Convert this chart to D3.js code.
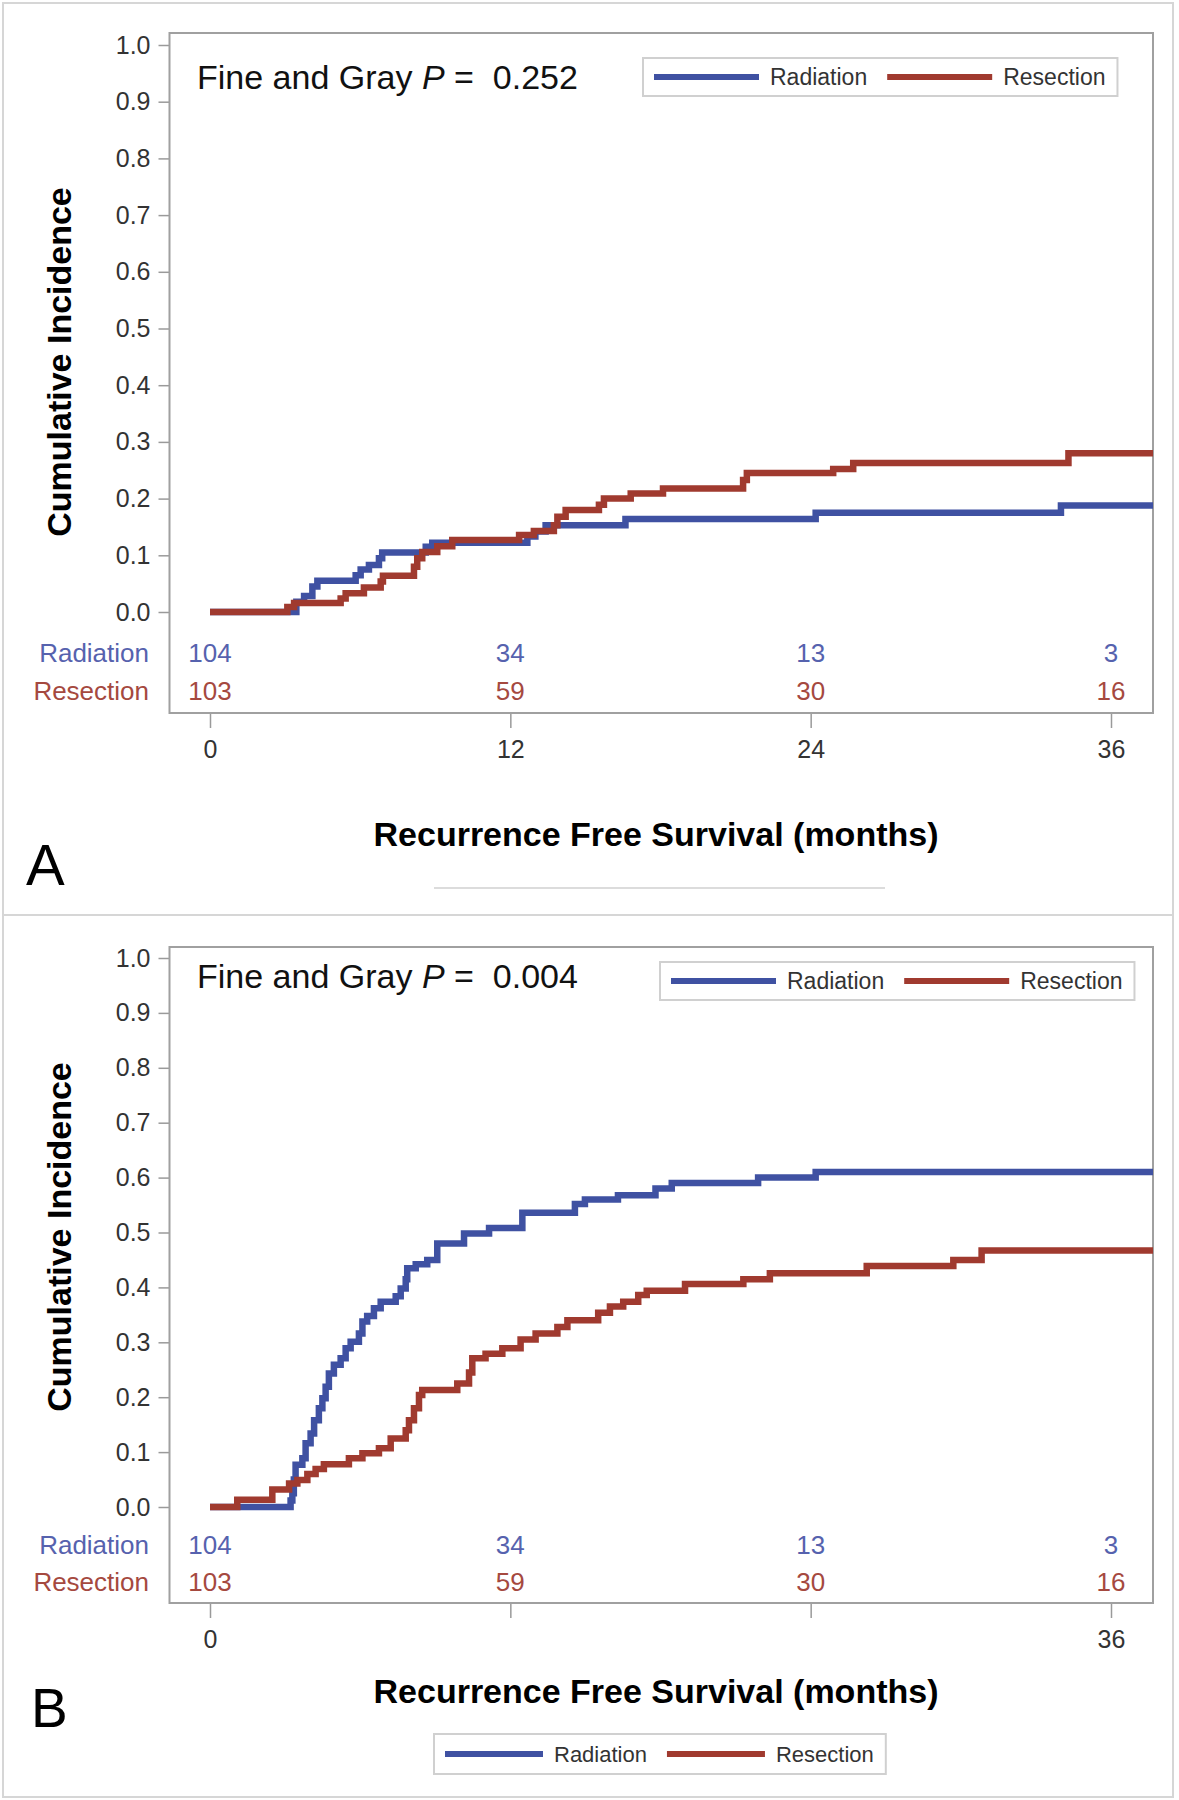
<!DOCTYPE html>
<html lang="en">
<head>
<meta charset="utf-8">
<title>Cumulative Incidence: Radiation vs Resection</title>
<style>
    body {
        margin: 0;
        background: #fff;
    }
    svg {
        display: block;
        font-family: "Liberation Sans", Arial, sans-serif;
    }
    .tick line {
        stroke: #9a9a9a;
        stroke-width: 1.5px;
    }
    .tick text {
        fill: #333;
        font-size: 25px;
    }
</style>
</head>
<body>
<svg id="chart" width="1179" height="1800"></svg>

<script src="https://d3js.org/d3.v7.min.js"></script>
<script>
    // ---- data (months, cumulative incidence) ----
    const groups = ["Radiation", "Resection"];
    const xTicks = [0, 12, 24, 36];
    const yTicks = [0, 0.1, 0.2, 0.3, 0.4, 0.5, 0.6, 0.7, 0.8, 0.9, 1.0];
    const riskTimes = [0, 12, 24, 36];
    const atRiskRadiation = [104, 34, 13, 3];
    const atRiskResection = [103, 59, 30, 16];

    const radiationA = [[0, 0], [3.45, 0.018], [3.76, 0.028], [4.09, 0.045], [4.29, 0.055], [5.82, 0.065],
        [6.02, 0.075], [6.35, 0.083], [6.75, 0.095], [6.88, 0.105], [8.62, 0.115], [8.88, 0.122],
        [12.68, 0.133], [13.0, 0.142], [13.41, 0.153], [16.6, 0.164], [24.2, 0.175], [34.0, 0.188]];
    const resectionA = [[0, 0], [3.09, 0.009], [3.36, 0.016], [5.22, 0.024], [5.42, 0.033], [6.15, 0.043],
        [6.82, 0.054], [6.91, 0.064], [8.15, 0.08], [8.28, 0.095], [8.48, 0.106], [9.08, 0.116],
        [9.68, 0.127], [12.35, 0.136], [12.94, 0.143], [13.74, 0.153], [13.88, 0.168], [14.21, 0.18],
        [15.54, 0.189], [15.74, 0.2], [16.81, 0.209], [18.1, 0.218], [21.3, 0.233], [21.45, 0.245],
        [24.9, 0.252], [25.7, 0.263], [34.3, 0.28]];

    const radiationB = [[0, 0], [3.22, 0.012], [3.29, 0.025], [3.35, 0.05], [3.42, 0.077], [3.69, 0.089],
        [3.82, 0.116], [4.02, 0.134], [4.16, 0.158], [4.35, 0.18], [4.49, 0.198], [4.62, 0.219],
        [4.75, 0.243], [4.95, 0.259], [5.22, 0.271], [5.42, 0.289], [5.62, 0.301], [5.95, 0.316],
        [6.09, 0.338], [6.28, 0.348], [6.55, 0.362], [6.82, 0.374], [7.42, 0.384], [7.62, 0.398],
        [7.82, 0.415], [7.88, 0.435], [8.22, 0.442], [8.68, 0.45], [9.08, 0.48], [10.15, 0.498],
        [11.15, 0.508], [12.48, 0.536], [14.58, 0.552], [14.98, 0.56], [16.3, 0.568], [17.8, 0.58],
        [18.45, 0.59], [21.9, 0.6], [24.2, 0.61]];
    const resectionB = [[0, 0], [1.09, 0.013], [2.49, 0.032], [3.16, 0.043], [3.49, 0.049], [3.89, 0.06],
        [4.22, 0.069], [4.55, 0.078], [5.55, 0.089], [6.09, 0.098], [6.75, 0.107], [7.22, 0.125],
        [7.82, 0.14], [7.95, 0.158], [8.15, 0.18], [8.35, 0.204], [8.48, 0.213], [9.88, 0.225],
        [10.35, 0.245], [10.48, 0.271], [11.01, 0.279], [11.68, 0.289], [12.41, 0.305], [13.01, 0.316],
        [13.88, 0.328], [14.28, 0.34], [15.51, 0.354], [15.98, 0.365], [16.51, 0.374], [17.11, 0.386],
        [17.45, 0.394], [18.98, 0.406], [21.31, 0.415], [22.37, 0.426], [26.24, 0.439], [29.7, 0.45],
        [30.83, 0.467]];

    const pValueA = "0.252";
    const pValueB = "0.004";

    const lineColors = ["#3f51a2", "#a03a2f"];
    const textColors = ["#5662ae", "#a5493f"];

    const svg = d3.select("#chart");

    // legend: swatch + label for each group
    function drawLegend(g, x0, y0, h, swatch, fontSize) {
        const lg = g.append("g").attr("transform", `translate(${x0},${y0})`);
        const box = lg.append("rect")
            .attr("height", h)
            .attr("fill", "#fff")
            .attr("stroke", "#d0d0d0")
            .attr("stroke-width", 2);
        let cx = 11;
        groups.forEach((name, i) => {
            lg.append("line")
                .attr("x1", cx).attr("x2", cx + swatch)
                .attr("y1", h / 2).attr("y2", h / 2)
                .attr("stroke", lineColors[i])
                .attr("stroke-width", 6);
            cx += swatch + 11;
            const t = lg.append("text")
                .attr("x", cx).attr("y", h / 2)
                .attr("dy", "0.35em")
                .attr("font-size", fontSize)
                .attr("fill", "#333")
                .text(name);
            cx += t.node().getComputedTextLength() + (i === 0 ? 20 : 12);
        });
        box.attr("width", cx);
    }

    function drawPanel(o) {
        const g = svg.append("g");

        // outer panel frame
        g.append("rect")
            .attr("x", o.frame[0]).attr("y", o.frame[1])
            .attr("width", o.frame[2] - o.frame[0]).attr("height", o.frame[3] - o.frame[1])
            .attr("fill", "none")
            .attr("stroke", "#d6d6d6")
            .attr("stroke-width", 2);

        const x = d3.scaleLinear().domain([0, 36]).range([210, 1111]);
        const y = d3.scaleLinear().domain([0, 1]).range([o.yZero, o.yOne]);
        const xEnd = x.invert(o.right);

        // clip
        const clipId = "clip-" + o.letter;
        g.append("clipPath").attr("id", clipId)
            .append("rect")
            .attr("x", o.left).attr("y", o.top)
            .attr("width", o.right - o.left).attr("height", o.bottom - o.top);

        // y axis
        const yAxis = g.append("g")
            .attr("transform", `translate(${o.left},0)`)
            .call(d3.axisLeft(y).tickValues(yTicks).tickFormat(d3.format(".1f")).tickSize(11).tickPadding(8));
        yAxis.select(".domain").remove();

        // x axis
        const xAxis = g.append("g")
            .attr("transform", `translate(0,${o.bottom})`)
            .call(d3.axisBottom(x).tickValues(xTicks)
                .tickFormat(d => o.xLabels.includes(d) ? d : "")
                .tickSize(15).tickPadding(12));
        xAxis.select(".domain").remove();

        // plot frame
        g.append("rect")
            .attr("x", o.left).attr("y", o.top)
            .attr("width", o.right - o.left).attr("height", o.bottom - o.top)
            .attr("fill", "none")
            .attr("stroke", "#a0a0a0")
            .attr("stroke-width", 2);

        // step curves
        const line = d3.line()
            .x(d => x(d[0]))
            .y(d => y(d[1]))
            .curve(d3.curveStepAfter);

        o.series.forEach((s, i) => {
            const pts = s.concat([[xEnd, s[s.length - 1][1]]]);
            g.append("path")
                .datum(pts)
                .attr("clip-path", `url(#${clipId})`)
                .attr("fill", "none")
                .attr("stroke", lineColors[i])
                .attr("stroke-width", 6.5)
                .attr("stroke-linejoin", "miter")
                .attr("d", line);
        });

        // at-risk table
        [atRiskRadiation, atRiskResection].forEach((vals, i) => {
            g.append("text")
                .attr("x", 149).attr("y", o.riskY[i])
                .attr("text-anchor", "end")
                .attr("font-size", 26)
                .attr("fill", textColors[i])
                .text(groups[i]);
            g.selectAll(null)
                .data(vals)
                .join("text")
                .attr("x", (d, j) => x(riskTimes[j]))
                .attr("y", o.riskY[i])
                .attr("text-anchor", "middle")
                .attr("font-size", 26)
                .attr("fill", textColors[i])
                .text(d => d);
        });

        // p-value annotation
        const pt = g.append("text")
            .attr("x", 197).attr("y", o.pY)
            .attr("font-size", 34)
            .attr("fill", "#111");
        pt.append("tspan").text("Fine and Gray ");
        pt.append("tspan").attr("font-style", "italic").text("P");
        pt.append("tspan").attr("xml:space", "preserve").text(" =  " + o.pValue);

        // legends
        o.legends.forEach(l => drawLegend(g, l.x, l.y, l.h, l.swatch, l.font));

        // axis titles
        g.append("text")
            .attr("transform", `translate(71,${o.yTitleY}) rotate(-90)`)
            .attr("text-anchor", "middle")
            .attr("font-size", 34)
            .attr("font-weight", "bold")
            .attr("fill", "#000")
            .text("Cumulative Incidence");

        g.append("text")
            .attr("x", 656).attr("y", o.xTitleY)
            .attr("text-anchor", "middle")
            .attr("font-size", 34)
            .attr("font-weight", "bold")
            .attr("fill", "#000")
            .text("Recurrence Free Survival (months)");

        // panel letter
        g.append("text")
            .attr("x", o.letterPos[0]).attr("y", o.letterPos[1])
            .attr("font-size", o.letterSize)
            .attr("fill", "#000")
            .text(o.letter);
    }

    drawPanel({
        letter: "A", letterPos: [26, 885], letterSize: 58,
        frame: [3, 3, 1173, 915],
        left: 169.5, right: 1153, top: 33, bottom: 713,
        yZero: 612, yOne: 45,
        series: [radiationA, resectionA],
        xLabels: [0, 12, 24, 36],
        riskY: [662, 700],
        pValue: pValueA, pY: 89,
        legends: [{x: 643, y: 58, h: 38, swatch: 105, font: 23}],
        yTitleY: 362, xTitleY: 846
    });

    // faint separator under panel A
    svg.append("line")
        .attr("x1", 434).attr("x2", 885)
        .attr("y1", 888).attr("y2", 888)
        .attr("stroke", "#dcdcdc")
        .attr("stroke-width", 2);

    drawPanel({
        letter: "B", letterPos: [31, 1727], letterSize: 55,
        frame: [3, 915, 1173, 1797],
        left: 169.5, right: 1153, top: 947, bottom: 1603,
        yZero: 1507, yOne: 958,
        series: [radiationB, resectionB],
        xLabels: [0, 36],
        riskY: [1554, 1591],
        pValue: pValueB, pY: 988,
        legends: [
            {x: 660, y: 962, h: 38, swatch: 105, font: 23},
            {x: 434, y: 1734, h: 40, swatch: 98, font: 22}
        ],
        yTitleY: 1237, xTitleY: 1703
    });
</script>
</body>
</html>
